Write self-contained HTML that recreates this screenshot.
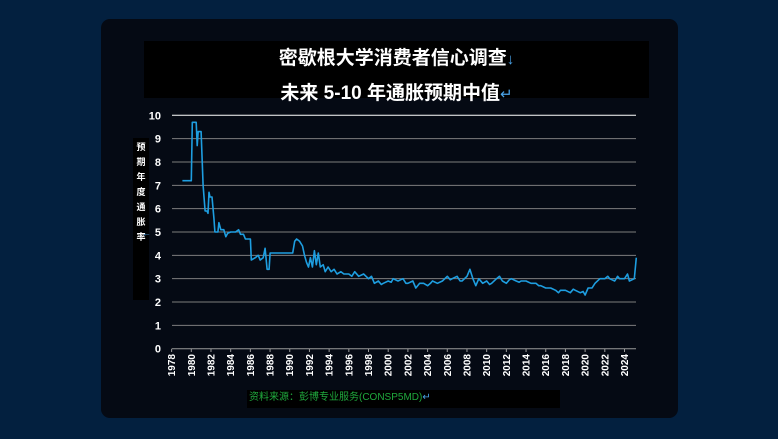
<!DOCTYPE html>
<html><head><meta charset="utf-8"><style>
body{margin:0;width:778px;height:439px;background:#03203f;overflow:hidden;font-family:"Liberation Sans","Noto Sans CJK SC",sans-serif}
#card{position:absolute;left:101px;top:19px;width:577px;height:399px;background:#050a14;border-radius:9px}
#titlebox{position:absolute;left:144px;top:41px;width:505px;height:57px;background:#000}
.t{position:absolute;left:144px;width:505px;text-align:center;color:#fff;font-size:19px;font-weight:bold;font-family:"Liberation Sans","Noto Sans CJK SC",sans-serif}
.ar{color:#4aa3e8;font-weight:normal;font-size:15px}
#ylab{position:absolute;left:133px;top:138px;width:16px;height:160px;background:#000;color:#fff;font-size:9px;font-weight:bold;text-align:center;line-height:15px;padding-top:2px}
#src{position:absolute;left:247px;top:390px;width:313px;height:18px;background:#000;color:#1fa83c;font-size:10px;line-height:16px;padding-left:2px;box-sizing:border-box}
</style></head><body>
<div id="card"></div>
<div id="titlebox"></div>
<div class="t" style="top:43px">密歇根大学消费者信心调查<span class="ar">↓</span></div>
<div class="t" style="top:78px">未来 5-10 年通胀预期中值<span class="ar">↵</span></div>
<div id="ylab">预<br>期<br>年<br>度<br>通<br>胀<br>率<span style="color:#4aa3e8;position:absolute;left:9px;top:88px">←</span></div>
<div id="src">资料来源：彭博专业服务(CONSP5MD)<span style="color:#4aa3e8">↵</span></div>
<svg id="chart" width="778" height="439" style="position:absolute;left:0;top:0"></svg>
<script>
const yTicks=[0,1,2,3,4,5,6,7,8,9,10];
const xTicks=[1978,1980,1982,1984,1986,1988,1990,1992,1994,1996,1998,2000,2002,2004,2006,2008,2010,2012,2014,2016,2018,2020,2022,2024];
const years=[1979.1,1980.0,1980.1,1980.5,1980.6,1980.7,1981.0,1981.2,1981.4,1981.6,1981.7,1981.8,1981.9,1982.1,1982.3,1982.4,1982.7,1982.8,1983.0,1983.3,1983.5,1983.7,1984.0,1984.5,1984.8,1985.0,1985.3,1985.5,1985.8,1986.0,1986.1,1986.5,1986.8,1987.0,1987.3,1987.5,1987.7,1987.9,1988.0,1990.3,1990.5,1990.7,1991.0,1991.3,1991.5,1991.7,1991.9,1992.1,1992.3,1992.5,1992.7,1992.9,1993.1,1993.4,1993.6,1993.9,1994.2,1994.5,1994.8,1995.2,1995.5,1996.0,1996.3,1996.6,1997.0,1997.5,1998.0,1998.3,1998.6,1999.0,1999.3,1999.5,2000.0,2000.3,2000.5,2001.0,2001.5,2001.8,2002.0,2002.5,2002.8,2003.2,2003.6,2004.0,2004.3,2004.5,2005.0,2005.5,2006.0,2006.3,2006.5,2007.0,2007.3,2007.5,2008.0,2008.3,2008.6,2008.9,2009.2,2009.6,2010.0,2010.3,2010.5,2011.0,2011.3,2011.6,2012.0,2012.3,2012.5,2013.0,2013.3,2013.5,2014.0,2014.5,2015.0,2015.3,2015.5,2016.0,2016.3,2016.5,2017.0,2017.3,2017.5,2018.0,2018.5,2018.8,2019.0,2019.5,2019.8,2020.0,2020.3,2020.7,2021.0,2021.5,2022.0,2022.3,2022.5,2023.0,2023.3,2023.5,2024.0,2024.3,2024.5,2025.0,2025.2];
const values=[7.2,7.2,9.7,9.7,8.7,9.3,9.3,7.0,5.9,5.9,5.8,6.7,6.5,6.5,5.6,5.0,5.0,5.4,5.1,5.1,4.8,4.95,5.0,5.0,5.1,4.9,4.9,4.7,4.7,4.7,3.8,3.9,4.0,3.8,3.9,4.3,3.4,3.4,4.1,4.1,4.6,4.7,4.6,4.4,4.0,3.7,3.5,3.9,3.5,4.2,3.6,4.1,3.5,3.6,3.3,3.5,3.3,3.4,3.2,3.3,3.2,3.2,3.1,3.3,3.1,3.2,3.0,3.1,2.8,2.9,2.75,2.8,2.9,2.85,3.0,2.9,3.0,2.8,2.8,2.9,2.6,2.8,2.8,2.7,2.8,2.9,2.8,2.9,3.1,2.95,3.0,3.1,2.9,2.9,3.1,3.4,3.0,2.7,3.0,2.8,2.9,2.75,2.8,3.0,3.1,2.9,2.8,2.95,3.0,2.9,2.85,2.9,2.9,2.8,2.8,2.7,2.7,2.6,2.6,2.6,2.5,2.4,2.5,2.5,2.4,2.55,2.5,2.4,2.45,2.3,2.6,2.6,2.8,3.0,3.0,3.1,3.0,2.9,3.1,3.0,3.0,3.2,2.9,3.0,3.9];
const svg=document.getElementById('chart');const NS='http://www.w3.org/2000/svg';
const x=y=>171.6+(y-1978)*(624.5-171.6)/46;
const yv=v=>348.7-v*(348.7-115.3)/10;
function mk(t,a){const e=document.createElementNS(NS,t);for(const k in a)e.setAttribute(k,a[k]);svg.appendChild(e);return e;}
yTicks.forEach(v=>{
 const l=mk('line',{x1:172,x2:636,y1:yv(v),y2:yv(v),stroke:v==10?'#ffffff':(v==0?'#999':'#7d7d7d'),'stroke-width':1});
 
 
 const t=mk('text',{x:161,y:yv(v)+4,fill:'#fff','font-size':11,'font-weight':'bold','text-anchor':'end','font-family':'Liberation Sans'});t.textContent=v;
 
 
});
xTicks.forEach(yr=>{
 const l=mk('line',{x1:x(yr),x2:x(yr),y1:348.7,y2:352,stroke:'#999'});
 
 
 const t=mk('text',{x:0,y:0,fill:'#fff','font-size':10,'font-weight':'bold','text-anchor':'end','font-family':'Liberation Sans',transform:`translate(${x(yr)+3.5},354) rotate(-90)`});t.textContent=yr;
 
 
});
let d='';for(let i=0;i<years.length;i++){d+=(i?'L':'M')+x(years[i]).toFixed(1)+','+yv(values[i]).toFixed(1);}
const p=mk('path',{d:d,fill:'none',stroke:'#1e9ee0','stroke-width':1.6,'stroke-linejoin':'round'});


</script>
</body></html>
